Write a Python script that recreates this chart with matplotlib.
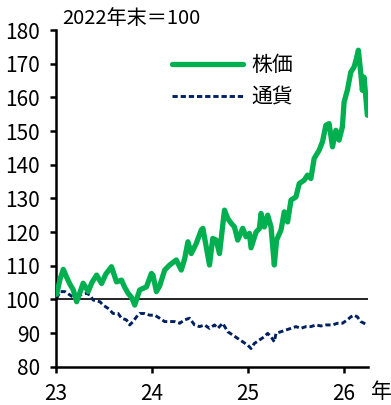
import numpy as np
import matplotlib.pyplot as plt

plt.rcParams['font.family'] = ['Liberation Sans Narrow', 'Noto Sans CJK JP', 'DejaVu Sans']

# 株価 (2022年末=100)
stock_t = [23.007, 23.042, 23.076, 23.104, 23.145, 23.180, 23.215, 23.249, 23.283, 23.335,
           23.374, 23.423, 23.475, 23.519, 23.578, 23.630, 23.682, 23.717, 23.751, 23.789,
           23.820, 23.872, 23.942, 23.994, 24.010, 24.046, 24.080, 24.132, 24.184, 24.253,
           24.305, 24.340, 24.374, 24.409, 24.461, 24.513, 24.530, 24.565, 24.599, 24.633,
           24.669, 24.703, 24.755, 24.789, 24.825, 24.859, 24.893, 24.945, 24.980, 25.015,
           25.032, 25.084, 25.118, 25.136, 25.170, 25.205, 25.240, 25.274, 25.298, 25.344,
           25.378, 25.412, 25.448, 25.499, 25.534, 25.586, 25.620, 25.655, 25.689, 25.741,
           25.776, 25.811, 25.845, 25.880, 25.915, 25.949, 25.983, 26.001, 26.035, 26.071,
           26.105, 26.129, 26.150, 26.175, 26.191, 26.209, 26.227, 26.243]
stock_v = [101.5, 106.0, 108.9, 107.0, 104.5, 102.8, 99.3, 102.0, 104.8, 102.3,
           105.0, 107.2, 104.7, 107.5, 109.7, 105.2, 105.7, 103.5, 101.8, 100.5,
           98.3, 102.8, 103.7, 107.7, 107.2, 102.3, 104.0, 108.7, 110.2, 111.7,
           108.7, 112.0, 117.1, 113.6, 116.6, 120.6, 121.1, 115.6, 110.2, 118.1,
           117.6, 113.6, 126.5, 124.0, 122.6, 121.5, 117.6, 121.1, 118.6, 119.6,
           115.3, 120.0, 121.0, 125.5, 121.5, 125.0, 121.5, 110.2, 117.6, 120.6,
           126.0, 123.0, 129.5, 130.4, 134.4, 135.4, 136.9, 135.9, 141.8, 144.3,
           146.8, 151.7, 152.2, 145.3, 150.2, 147.3, 151.2, 158.6, 162.1, 167.5,
           169.0, 171.5, 174.0, 167.1, 162.1, 166.0, 160.1, 154.7]

# 通貨 (2022年末=100)
fx_t = [23.007, 23.042, 23.093, 23.145, 23.197, 23.215, 23.249, 23.319, 23.353, 23.387,
        23.457, 23.491, 23.543, 23.595, 23.647, 23.682, 23.734, 23.768, 23.803, 23.838,
        23.872, 23.924, 23.976, 24.028, 24.080, 24.132, 24.184, 24.236, 24.288, 24.340,
        24.392, 24.443, 24.495, 24.547, 24.599, 24.651, 24.685, 24.737, 24.789, 24.841,
        24.893, 24.945, 24.997, 25.032, 25.066, 25.118, 25.170, 25.205, 25.240, 25.274,
        25.292, 25.344, 25.396, 25.448, 25.499, 25.551, 25.603, 25.655, 25.707, 25.759,
        25.811, 25.880, 25.932, 25.983, 26.035, 26.071, 26.105, 26.139, 26.175, 26.209,
        26.243]
fx_v = [100.3, 102.3, 102.3, 101.3, 100.3, 99.3, 101.3, 101.8, 101.3, 99.8,
        99.3, 98.3, 97.3, 95.8, 95.8, 94.4, 93.9, 92.4, 93.4, 94.8,
        95.8, 95.8, 95.3, 95.3, 94.4, 93.4, 93.4, 93.4, 92.9, 93.9,
        94.4, 92.4, 91.9, 92.4, 91.4, 92.4, 91.4, 92.9, 90.4, 89.4,
        88.4, 87.4, 86.4, 85.4, 86.9, 87.9, 88.9, 89.9, 88.9, 87.4,
        89.9, 90.4, 90.9, 91.4, 91.9, 91.4, 91.9, 91.9, 92.4, 92.1,
        92.4, 92.4, 92.9, 92.9, 93.9, 94.8, 95.3, 94.8, 93.4, 92.9,
        92.4]

years = [23, 24, 25, 26]
yticks = [80, 90, 100, 110, 120, 130, 140, 150, 160, 170, 180]

fig = plt.figure(figsize=(3.91, 4.05), dpi=100)
ax = fig.add_axes([56 / 391, 1 - 366.7 / 405, 312 / 391, 336.7 / 405])

ax.axhline(100, color='black', lw=1.2, zorder=1)
ax.plot(stock_t, stock_v, color='#00b050', lw=3.8, solid_joinstyle='round',
        solid_capstyle='round', label='株価', zorder=3)
ax.plot(fx_t, fx_v, color='#002060', lw=2.1, dashes=(1.8, 1.0), label='通貨', zorder=2)

ax.set_xlim(23, 26.25)
ax.set_ylim(80, 180)
ax.set_xticks(years)
ax.set_xticklabels([str(y) for y in years])
ax.set_yticks(yticks)

for s in ['top', 'right']:
    ax.spines[s].set_visible(False)
for s in ['left', 'bottom']:
    ax.spines[s].set_linewidth(1.8)
ax.tick_params(axis='both', direction='out', length=4.5, width=1.8, labelsize=15)
ax.tick_params(axis='y', pad=7)
ax.tick_params(axis='x', pad=7.5)

ax.legend(loc='upper left', bbox_to_anchor=(172 / 391, 1 - 54 / 405),
          bbox_transform=fig.transFigure, frameon=False,
          handlelength=3.4, handletextpad=0.4, labelspacing=0.5,
          borderpad=0, borderaxespad=0, prop={'family': ['Noto Sans CJK JP'], 'size': 15})

fig.text(62 / 391, 1 - 18.5 / 405, '2022年末＝100', fontsize=14.5, va='center', ha='left')
fig.text(381 / 391, 1 - 392 / 405, '年', fontsize=15, va='center', ha='center',
         family=['Noto Sans CJK JP'])

fig.savefig('out.png', dpi=100)
